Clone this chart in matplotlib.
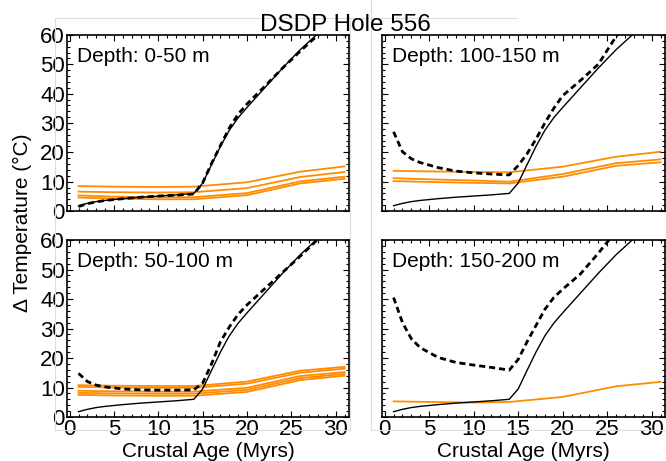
import numpy as np
import matplotlib
matplotlib.use('Agg')
from matplotlib import pyplot as plt
from matplotlib.ticker import MultipleLocator
from matplotlib.lines import Line2D

plt.rcParams['font.family'] = ['Liberation Sans', 'DejaVu Sans']

# model ages (Myrs)
age = [1, 2, 3, 4, 6, 8, 10, 12, 14, 15, 16, 17, 18, 19, 20, 22, 24, 26, 28, 31]
age_o = [1, 5, 10, 14, 20, 26, 31]

# conductive reference (thin black), same in every panel
ref = [1.8, 2.6, 3.2, 3.6, 4.2, 4.7, 5.1, 5.5, 6.0, 9.5, 15.8, 22, 27.5, 31.8, 35.3,
       42, 48.7, 55, 60.5, 69]

# dashed black, one per depth interval
dash_0_50 = [1.5, 2.5, 3.1, 3.6, 4.2, 4.7, 5.1, 5.4, 5.8, 9.6, 16.2, 22.3, 28.3, 33, 36.5,
             42.5, 48.7, 54.5, 60, 69]
dash_100_150 = [27, 20.2, 17.8, 16.5, 14.8, 13.6, 13.0, 12.6, 12.3, 15.5, 19.5, 24.5, 30, 35,
                39.3, 44.5, 50, 59.5, 67, 77]
dash_50_100 = [14.8, 12.0, 10.8, 10.2, 9.5, 9.2, 9.1, 9.1, 9.2, 11.5, 18, 25.5, 30.5, 34.8,
               38, 43.5, 49, 54.5, 60.3, 69]
dash_150_200 = [40.5, 32, 26.5, 23.5, 20.2, 18.5, 17.6, 16.8, 15.9, 19.5, 25.5, 31, 36.5, 40.5,
                43.3, 48.5, 55.5, 63, 69, 78]

# orange lines
or_0_50 = [
    [8.5, 8.3, 8.2, 8.3, 9.8, 13.4, 15.2],
    [6.6, 6.4, 6.3, 6.4, 7.8, 11.6, 13.3],
    [5.3, 4.9, 4.7, 4.7, 6.1, 10.1, 11.7],
    [4.6, 4.2, 4.0, 4.0, 5.4, 9.4, 11.0],
]
or_100_150 = [
    [13.7, 13.5, 13.3, 13.2, 15.1, 18.5, 20.2],
    [11.2, 10.8, 10.4, 10.0, 12.6, 16.3, 17.6],
    [10.2, 9.9, 9.6, 9.4, 11.7, 15.4, 16.6],
]
or_50_100 = [
    [10.8, 10.6, 10.5, 10.5, 12.0, 15.7, 17.0],
    [10.2, 10.0, 9.9, 9.9, 11.3, 15.0, 16.4],
    [8.9, 8.7, 8.6, 8.6, 9.9, 13.9, 15.2],
    [8.2, 8.0, 7.9, 7.9, 9.2, 13.2, 14.6],
    [7.5, 7.3, 7.2, 7.2, 8.5, 12.5, 14.0],
]
or_150_200 = [
    [5.3, 5.1, 4.9, 5.1, 6.8, 10.4, 11.9],
]

panels = [
    ('Depth: 0-50 m', dash_0_50, or_0_50),
    ('Depth: 100-150 m', dash_100_150, or_100_150),
    ('Depth: 50-100 m', dash_50_100, or_50_100),
    ('Depth: 150-200 m', dash_150_200, or_150_200),
]

W, H = 666, 461
fig = plt.figure(figsize=(W / 100, H / 100), dpi=100)

# faint frame lines from the original composite
gray = '#dddddd'
for xs, ys in [([55, 55], [18, 430]), ([55, 517], [18, 18]), ([55, 350], [430, 430]),
               ([350, 350], [18, 430]), ([371, 371], [0, 430]), ([371, 666], [430, 430])]:
    fig.add_artist(Line2D([x / W for x in xs], [1 - y / H for y in ys],
                          color=gray, lw=0.8, transform=fig.transFigure))

boxes = [
    [67 / W, 1 - 211 / H, 282 / W, 176 / H],
    [382 / W, 1 - 211 / H, 283 / W, 176 / H],
    [67 / W, 1 - 417 / H, 282 / W, 177 / H],
    [382 / W, 1 - 417 / H, 283 / W, 177 / H],
]

orange = '#ff8c00'
font = 15

for i, (label, dashed, oranges) in enumerate(panels):
    ax = fig.add_axes(boxes[i])
    for o in oranges:
        ax.plot(age_o, o, color=orange, lw=1.3)
    ax.plot(age, ref, color='k', lw=1.0)
    ax.plot(age, dashed, color='k', lw=2.0, ls=(0, (2.2, 1.4)))
    ax.set_xlim(-0.3, 31.5)
    ax.set_ylim(0, 60)
    ax.xaxis.set_major_locator(MultipleLocator(5))
    ax.xaxis.set_minor_locator(MultipleLocator(1))
    ax.yaxis.set_major_locator(MultipleLocator(10))
    ax.yaxis.set_minor_locator(MultipleLocator(2))
    ax.tick_params(which='both', direction='in', top=True, right=True, width=0.8,
                   labelsize=16, pad=1.5)
    ax.tick_params(which='major', length=4)
    ax.tick_params(which='minor', length=2)
    for s in ax.spines.values():
        s.set_linewidth(1.2)
    if i % 2 == 1:
        ax.tick_params(labelleft=False)
    if i < 2:
        ax.tick_params(labelbottom=False)
    else:
        ax.set_xlabel('Crustal Age (Myrs)', fontsize=font, labelpad=1.5)
    ax.text(0.035, 0.93, label, transform=ax.transAxes, fontsize=font, va='top', ha='left')

fig.text(0.518, 1 - 31 / H, 'DSDP Hole 556', fontsize=17.5, ha='center', va='baseline')
fig.text(0.033, 1 - 223 / H, '\u0394 Temperature (\u00b0C)', fontsize=font, rotation=90,
         ha='center', va='center')

fig.savefig('out.png', dpi=100)
